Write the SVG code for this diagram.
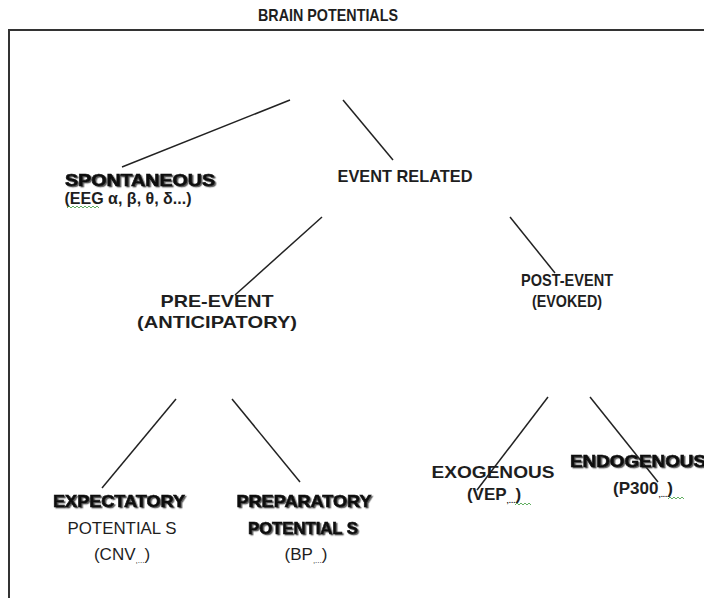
<svg xmlns="http://www.w3.org/2000/svg" width="704" height="598" viewBox="0 0 704 598">
<defs>
<filter id="shadow" x="-10%" y="-30%" width="120%" height="160%">
<feDropShadow dx="1.5" dy="1.2" stdDeviation="0.6" flood-color="#333" flood-opacity="0.8"/>
</filter>
<style>
text{font-family:"Liberation Sans",Arial,sans-serif;fill:#1e1e1e;}
.t{font-size:17px;font-weight:bold;text-anchor:middle;}
.h{font-size:17px;font-weight:900;text-anchor:middle;fill:#111;stroke:#111;stroke-width:0.6;filter:url(#shadow);}
.r{font-size:17px;font-weight:normal;text-anchor:middle;}
.sub{font-size:8px;}
.ln{stroke:#222;stroke-width:1.5;fill:none;}
.frame{stroke:#333;stroke-width:2;fill:none;}
.wavy{stroke:#3a9a3a;stroke-width:0.8;fill:none;}
</style>
</defs>
<rect width="704" height="598" fill="#fff"/>
<text id="title" class="t" x="328" y="21" font-size="15" textLength="140" lengthAdjust="spacingAndGlyphs">BRAIN POTENTIALS</text>
<path class="frame" d="M704,30 H9 V598"/>
<g id="connectors">
<line class="ln" x1="290" y1="100" x2="122" y2="167"/>
<line class="ln" x1="343" y1="100" x2="393" y2="160"/>
<line class="ln" x1="322" y1="217" x2="235" y2="295"/>
<line class="ln" x1="510" y1="217" x2="555" y2="273"/>
<line class="ln" x1="176" y1="399" x2="102" y2="488"/>
<line class="ln" x1="232" y1="399" x2="300" y2="482"/>
<line class="ln" x1="548" y1="397" x2="477" y2="490"/>
<line class="ln" x1="590" y1="397" x2="658" y2="482"/>
</g>
<g id="spontaneous">
<text class="h" x="140" y="186" textLength="150" lengthAdjust="spacingAndGlyphs">SPONTANEOUS</text>
<text class="t" x="128" y="204" font-size="16" textLength="127" lengthAdjust="spacingAndGlyphs">(EEG α, β, θ, δ...)</text>
<path class="wavy" d="M67,208 l2,-2 l2,2 l2,-2 l2,2 l2,-2 l2,2 l2,-2 l2,2 l2,-2 l2,2 l2,-2 l2,2 l2,-2 l2,2 l2,-2 l2,2"/>
</g>
<g id="event-related">
<text class="t" x="405" y="182" textLength="135" lengthAdjust="spacingAndGlyphs">EVENT RELATED</text>
</g>
<g id="pre-event">
<text class="t" x="217" y="307" textLength="113" lengthAdjust="spacingAndGlyphs">PRE-EVENT</text>
<text class="t" x="217" y="328" textLength="160" lengthAdjust="spacingAndGlyphs">(ANTICIPATORY)</text>
</g>
<g id="post-event">
<text class="t" x="567" y="286" textLength="92" lengthAdjust="spacingAndGlyphs">POST-EVENT</text>
<text class="t" x="567" y="307" textLength="70" lengthAdjust="spacingAndGlyphs">(EVOKED)</text>
</g>
<g id="expectatory">
<text class="h" x="119" y="507" textLength="132" lengthAdjust="spacingAndGlyphs">EXPECTATORY</text>
<text class="r" x="122" y="534" textLength="109" lengthAdjust="spacingAndGlyphs">POTENTIAL S</text>
<text class="r" x="122" y="560">(CNV<tspan class="sub" dy="3">,...</tspan><tspan dy="-3">)</tspan></text>
</g>
<g id="preparatory">
<text class="h" x="304" y="507" textLength="135" lengthAdjust="spacingAndGlyphs">PREPARATORY</text>
<text class="h" x="303" y="534" textLength="110" lengthAdjust="spacingAndGlyphs">POTENTIAL S</text>
<text class="r" x="306" y="560">(BP<tspan class="sub" dy="3">,...</tspan><tspan dy="-3">)</tspan></text>
</g>
<g id="exogenous">
<text class="t" x="493" y="478" textLength="123" lengthAdjust="spacingAndGlyphs">EXOGENOUS</text>
<text class="t" x="494" y="500">(VEP<tspan class="sub" dy="3">,...</tspan><tspan dy="-3">)</tspan></text>
<path class="wavy" d="M515,505 l2,-2 l2,2 l2,-2 l2,2 l2,-2 l2,2 l2,-2 l2,2"/>
</g>
<g id="endogenous">
<text class="h" x="638" y="467" textLength="136" lengthAdjust="spacingAndGlyphs">ENDOGENOUS</text>
<text class="t" x="643" y="494">(P300<tspan class="sub" dy="3">,...</tspan><tspan dy="-3">)</tspan></text>
<path class="wavy" d="M668,499 l2,-2 l2,2 l2,-2 l2,2 l2,-2 l2,2 l2,-2 l2,2"/>
</g>
</svg>
